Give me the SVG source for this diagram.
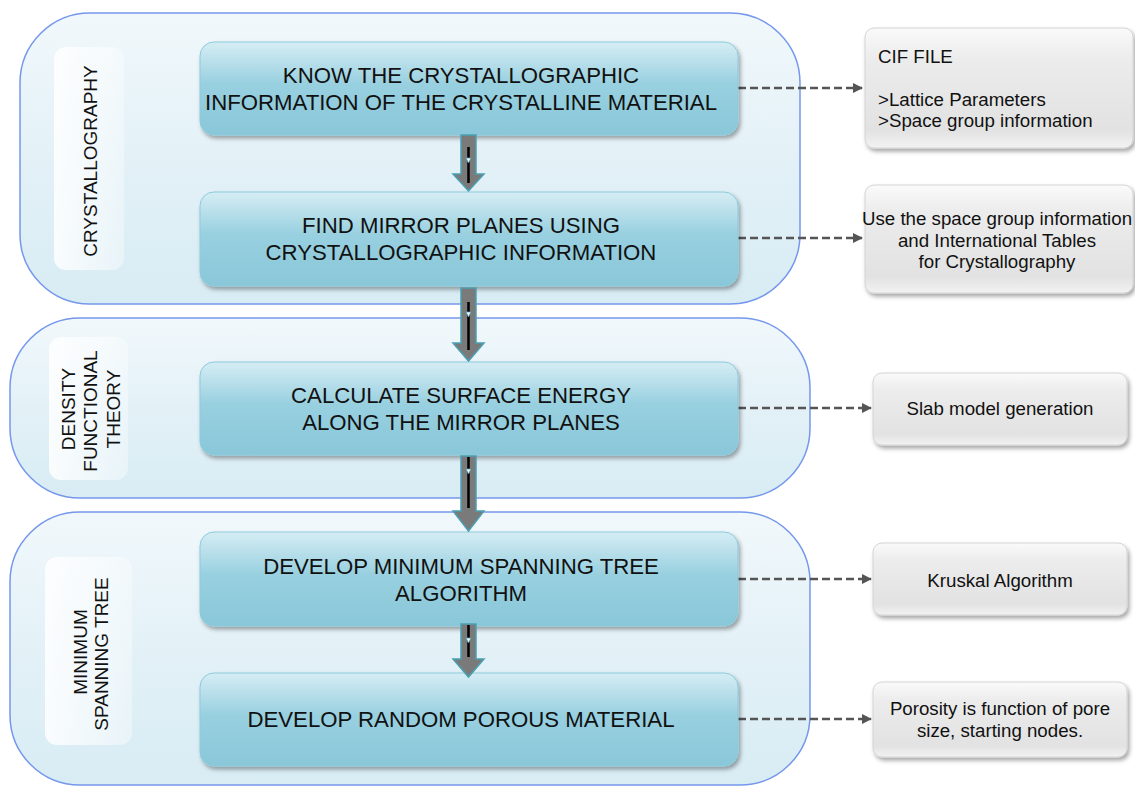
<svg xmlns="http://www.w3.org/2000/svg" width="1135" height="787" viewBox="0 0 1135 787">
<defs>
<linearGradient id="gCont" x1="0" y1="0" x2="0" y2="1">
<stop offset="0" stop-color="#f1f8fb"/>
<stop offset="0.5" stop-color="#e3f1f7"/>
<stop offset="1" stop-color="#d8ecf4"/>
</linearGradient>
<linearGradient id="gPanel" x1="0" y1="0" x2="1" y2="0">
<stop offset="0" stop-color="#ffffff" stop-opacity="0.85"/>
<stop offset="1" stop-color="#ffffff" stop-opacity="0.35"/>
</linearGradient>
<linearGradient id="gBlue" x1="0" y1="0" x2="0" y2="1">
<stop offset="0" stop-color="#d6edf4"/>
<stop offset="0.45" stop-color="#98d0e0"/>
<stop offset="1" stop-color="#89c7d9"/>
</linearGradient>
<linearGradient id="gGray" x1="0" y1="0" x2="0" y2="1">
<stop offset="0" stop-color="#fafafa"/>
<stop offset="0.25" stop-color="#ececec"/>
<stop offset="0.85" stop-color="#e2e2e2"/>
<stop offset="1" stop-color="#f2f2f2"/>
</linearGradient>
<filter id="sh" x="-5%" y="-10%" width="115%" height="130%">
<feDropShadow dx="2" dy="3" stdDeviation="2" flood-color="#000" flood-opacity="0.35"/>
</filter>
<marker id="ah" viewBox="0 0 10 10" refX="9" refY="5" markerWidth="4" markerHeight="4" orient="auto" markerUnits="strokeWidth">
<path d="M0,0 L10,5 L0,10 Z" fill="#555"/>
</marker>
</defs>
<style>
.cont{fill:url(#gCont);stroke:#7597ec;stroke-width:1.5}
.panel{fill:url(#gPanel)}
.blue{fill:url(#gBlue);stroke:#8ccbdc;stroke-width:1;filter:url(#sh)}
.gray{fill:url(#gGray);stroke:#d4d4d4;stroke-width:1;filter:url(#sh)}
.t{font-family:"Liberation Sans",Arial,sans-serif;fill:#111}
.bt{font-size:22.2px;text-anchor:middle}
.lt{font-size:19px;text-anchor:middle}
.rt{font-size:18.7px}
.dash{fill:none;stroke:#555;stroke-width:2.5;stroke-dasharray:8 4;marker-end:url(#ah)}
.barrow{fill:#7a7a7a;stroke:#4aa0b2;stroke-width:1.5}
.inner{stroke:#000;stroke-width:2.5}
.tri{fill:#fff;stroke:#4aa0b2;stroke-width:0.8}
</style>

<g id="containers">
<g id="grp-crystallography">
<rect class="cont" x="20" y="13" width="780" height="291" rx="70" ry="70"/>
<rect class="panel" x="54" y="47" width="70" height="223" rx="12"/>
<text class="t lt" transform="translate(97,161) rotate(-90)">CRYSTALLOGRAPHY</text>
</g>
<g id="grp-dft">
<rect class="cont" x="10" y="318" width="800" height="180" rx="70" ry="70"/>
<rect class="panel" x="49" y="337" width="79" height="143" rx="12"/>
<text class="t lt" transform="translate(75,409) rotate(-90)">DENSITY</text>
<text class="t lt" transform="translate(97,411) rotate(-90)">FUNCTIONAL</text>
<text class="t lt" transform="translate(120,409) rotate(-90)">THEORY</text>
</g>
<g id="grp-mst">
<rect class="cont" x="10" y="512" width="800" height="273" rx="70" ry="70"/>
<rect class="panel" x="45" y="557" width="87" height="188" rx="12"/>
<text class="t lt" transform="translate(87,652) rotate(-90)">MINIMUM</text>
<text class="t lt" transform="translate(108,654) rotate(-90)">SPANNING TREE</text>
</g>
</g>

<g id="connectors">
<path class="dash" d="M738,88 L862,88"/>
<path class="dash" d="M738,238 L862,238"/>
<path class="dash" d="M738,408 L871,408"/>
<path class="dash" d="M738,579 L871,579"/>
<path class="dash" d="M738,719 L871,719"/>
</g>

<g id="n1">
<rect class="blue" x="200" y="42" width="538" height="93" rx="14"/>
<text class="t bt" x="461" y="83">KNOW THE CRYSTALLOGRAPHIC</text>
<text class="t bt" x="461" y="110">INFORMATION OF THE CRYSTALLINE MATERIAL</text>
</g>
<g id="n2">
<rect class="blue" x="200" y="192" width="538" height="94" rx="14"/>
<text class="t bt" x="461" y="233">FIND MIRROR PLANES USING</text>
<text class="t bt" x="461" y="260">CRYSTALLOGRAPHIC INFORMATION</text>
</g>
<g id="n3">
<rect class="blue" x="200" y="362" width="538" height="93" rx="14"/>
<text class="t bt" x="461" y="403">CALCULATE SURFACE ENERGY</text>
<text class="t bt" x="461" y="430">ALONG THE MIRROR PLANES</text>
</g>
<g id="n4">
<rect class="blue" x="200" y="532" width="538" height="94" rx="14"/>
<text class="t bt" x="461" y="574">DEVELOP MINIMUM SPANNING TREE</text>
<text class="t bt" x="461" y="601">ALGORITHM</text>
</g>
<g id="n5">
<rect class="blue" x="200" y="673" width="538" height="93" rx="14"/>
<text class="t bt" x="461" y="727">DEVELOP RANDOM POROUS MATERIAL</text>
</g>

<g id="flow-arrows">
<path class="barrow" d="M461,135 L476,135 L476,174 L484,174 L468.5,191 L453,174 L461,174 Z"/>
<line class="inner" x1="468.5" y1="147" x2="468.5" y2="183"/>
<path class="tri" d="M466,158 L471,158 L468.5,163 Z"/>
<path class="barrow" d="M461,288 L476,288 L476,343 L484,343 L468.5,361 L453,343 L461,343 Z"/>
<line class="inner" x1="468.5" y1="302" x2="468.5" y2="350"/>
<path class="tri" d="M466,312 L471,312 L468.5,317 Z"/>
<path class="barrow" d="M461,456 L476,456 L476,511 L484,511 L468.5,531 L453,511 L461,511 Z"/>
<line class="inner" x1="468.5" y1="457" x2="468.5" y2="508"/>
<path class="tri" d="M466,469 L471,469 L468.5,474 Z"/>
<path class="barrow" d="M461,624 L476,624 L476,659 L484,659 L468.5,677 L453,659 L461,659 Z"/>
<line class="inner" x1="468.5" y1="625" x2="468.5" y2="657"/>
<path class="tri" d="M466,638 L471,638 L468.5,643 Z"/>
</g>

<g id="rA">
<rect class="gray" x="865" y="28" width="268" height="120" rx="9"/>
<text class="t rt" x="878" y="63">CIF FILE</text>
<text class="t rt" x="878" y="106">&gt;Lattice Parameters</text>
<text class="t rt" x="878" y="127">&gt;Space group information</text>
</g>
<g id="rB">
<rect class="gray" x="865" y="185" width="268" height="108" rx="9"/>
<text class="t rt" text-anchor="middle" x="997" y="225">Use the space group information</text>
<text class="t rt" text-anchor="middle" x="997" y="247">and International Tables</text>
<text class="t rt" text-anchor="middle" x="997" y="268">for Crystallography</text>
</g>
<g id="rC">
<rect class="gray" x="873" y="373" width="254" height="72" rx="9"/>
<text class="t rt" text-anchor="middle" x="1000" y="415">Slab model generation</text>
</g>
<g id="rD">
<rect class="gray" x="873" y="543" width="254" height="72" rx="9"/>
<text class="t rt" text-anchor="middle" x="1000" y="587">Kruskal Algorithm</text>
</g>
<g id="rE">
<rect class="gray" x="873" y="682" width="254" height="75" rx="9"/>
<text class="t rt" text-anchor="middle" x="1000" y="715">Porosity is function of pore</text>
<text class="t rt" text-anchor="middle" x="1000" y="737">size, starting nodes.</text>
</g>
</svg>
